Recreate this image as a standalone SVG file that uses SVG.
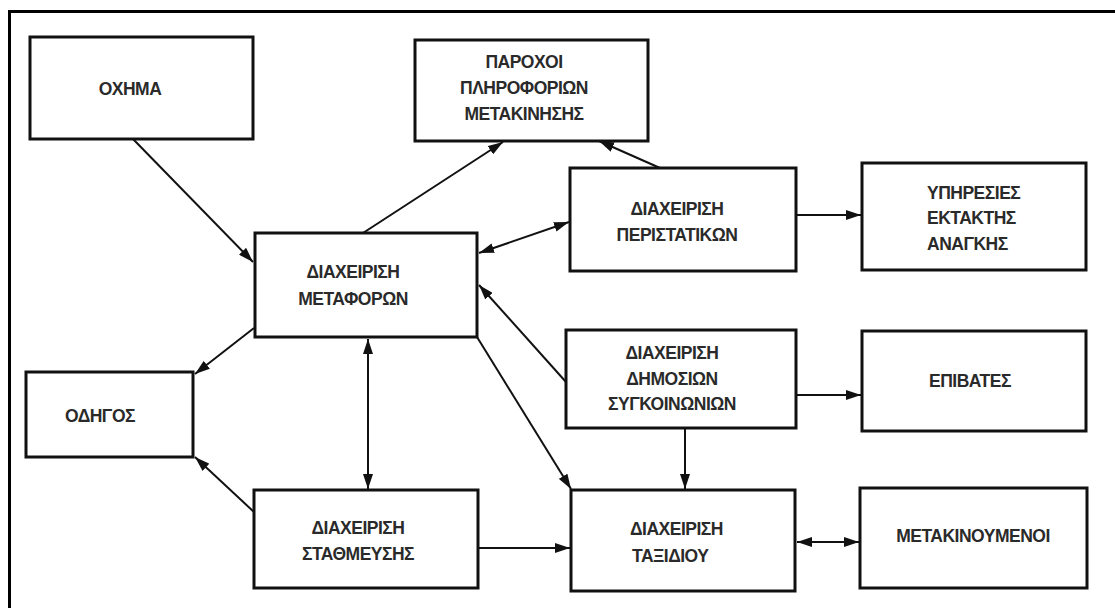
<svg xmlns="http://www.w3.org/2000/svg" width="1115" height="608" viewBox="0 0 1115 608">
  <style>
    .box { fill: #ffffff; stroke: #111; stroke-width: 3; }
    .lbl { font-family: "Liberation Sans", Arial, sans-serif; font-weight: bold; font-size: 17.5px; letter-spacing: -0.5px; fill: #2a2a2a; text-anchor: middle; }
    .lbl-s { text-anchor: start; }
    .edge { fill: none; stroke: #111; stroke-width: 2; }
    .frame { fill: none; stroke: #000; stroke-width: 3; }
  </style>
  <defs>
    <marker id="arrow" viewBox="0 0 15 10" refX="15" refY="5" markerWidth="15" markerHeight="10" markerUnits="userSpaceOnUse" orient="auto">
      <path d="M0,0 L15,5 L0,10 Z" fill="#111"/>
    </marker>
    <marker id="arrow-start" viewBox="0 0 15 10" refX="0" refY="5" markerWidth="15" markerHeight="10" markerUnits="userSpaceOnUse" orient="auto">
      <path d="M15,0 L0,5 L15,10 Z" fill="#111"/>
    </marker>
  </defs>

  <rect width="1115" height="608" fill="#ffffff"/>

  <!-- outer frame (top and left edges) -->
  <path class="frame" d="M9.5,608 V11.5 H1115"/>

  <!-- connectors -->
  <g id="connectors">
    <line class="edge" x1="133" y1="139" x2="253" y2="262" marker-end="url(#arrow)"/>
    <line class="edge" x1="363" y1="233" x2="503" y2="142" marker-end="url(#arrow)"/>
    <line class="edge" x1="660" y1="168" x2="599" y2="141" marker-end="url(#arrow)"/>
    <line class="edge" x1="479" y1="253" x2="569" y2="222" marker-start="url(#arrow-start)" marker-end="url(#arrow)"/>
    <line class="edge" x1="796" y1="215" x2="861" y2="215" marker-end="url(#arrow)"/>
    <line class="edge" x1="566" y1="382" x2="479" y2="285" marker-end="url(#arrow)"/>
    <line class="edge" x1="477" y1="337" x2="571" y2="489" marker-end="url(#arrow)"/>
    <line class="edge" x1="796" y1="395" x2="861" y2="395" marker-end="url(#arrow)"/>
    <line class="edge" x1="685" y1="428" x2="685" y2="489" marker-end="url(#arrow)"/>
    <line class="edge" x1="368" y1="339" x2="368" y2="489" marker-start="url(#arrow-start)" marker-end="url(#arrow)"/>
    <line class="edge" x1="254" y1="328" x2="195" y2="374" marker-end="url(#arrow)"/>
    <line class="edge" x1="254" y1="512" x2="195" y2="457" marker-end="url(#arrow)"/>
    <line class="edge" x1="478" y1="548" x2="570" y2="548" marker-end="url(#arrow)"/>
    <line class="edge" x1="797" y1="542" x2="859" y2="542" marker-start="url(#arrow-start)" marker-end="url(#arrow)"/>
  </g>

  <!-- nodes -->
  <g id="n-oxima">
    <rect class="box" x="30" y="37" width="223" height="102"/>
    <text class="lbl" x="130" y="95">ΟΧΗΜΑ</text>
  </g>
  <g id="n-paroxoi">
    <rect class="box" x="415" y="40" width="233" height="101"/>
    <text class="lbl" x="524" y="68">ΠΑΡΟΧΟΙ</text>
    <text class="lbl" x="524" y="94">ΠΛΗΡΟΦΟΡΙΩΝ</text>
    <text class="lbl" x="524" y="120">ΜΕΤΑΚΙΝΗΣΗΣ</text>
  </g>
  <g id="n-peristatika">
    <rect class="box" x="570" y="168" width="226" height="103"/>
    <text class="lbl" x="677" y="215">ΔΙΑΧΕΙΡΙΣΗ</text>
    <text class="lbl" x="677" y="241">ΠΕΡΙΣΤΑΤΙΚΩΝ</text>
  </g>
  <g id="n-ypiresies">
    <rect class="box" x="862" y="163" width="224" height="107"/>
    <text class="lbl lbl-s" x="927" y="199">ΥΠΗΡΕΣΙΕΣ</text>
    <text class="lbl lbl-s" x="927" y="224">ΕΚΤΑΚΤΗΣ</text>
    <text class="lbl lbl-s" x="927" y="250">ΑΝΑΓΚΗΣ</text>
  </g>
  <g id="n-metafores">
    <rect class="box" x="255" y="233" width="222" height="104"/>
    <text class="lbl" x="353" y="278">ΔΙΑΧΕΙΡΙΣΗ</text>
    <text class="lbl" x="353" y="305">ΜΕΤΑΦΟΡΩΝ</text>
  </g>
  <g id="n-odigos">
    <rect class="box" x="26" y="372" width="167" height="85"/>
    <text class="lbl" x="100" y="422">ΟΔΗΓΟΣ</text>
  </g>
  <g id="n-sygkoinonies">
    <rect class="box" x="566" y="330" width="230" height="98"/>
    <text class="lbl" x="672" y="359">ΔΙΑΧΕΙΡΙΣΗ</text>
    <text class="lbl" x="672" y="385">ΔΗΜΟΣΙΩΝ</text>
    <text class="lbl" x="672" y="410">ΣΥΓΚΟΙΝΩΝΙΩΝ</text>
  </g>
  <g id="n-epivates">
    <rect class="box" x="862" y="331" width="224" height="100"/>
    <text class="lbl" x="970" y="387">ΕΠΙΒΑΤΕΣ</text>
  </g>
  <g id="n-stathmeusi">
    <rect class="box" x="254" y="490" width="224" height="98"/>
    <text class="lbl" x="358" y="534">ΔΙΑΧΕΙΡΙΣΗ</text>
    <text class="lbl" x="358" y="560">ΣΤΑΘΜΕΥΣΗΣ</text>
  </g>
  <g id="n-taxidi">
    <rect class="box" x="571" y="490" width="224" height="101"/>
    <text class="lbl lbl-s" x="630" y="535">ΔΙΑΧΕΙΡΙΣΗ</text>
    <text class="lbl lbl-s" x="632" y="562">ΤΑΞΙΔΙΟΥ</text>
  </g>
  <g id="n-metakinoumenoi">
    <rect class="box" x="860" y="488" width="227" height="100"/>
    <text class="lbl" x="973" y="542">ΜΕΤΑΚΙΝΟΥΜΕΝΟΙ</text>
  </g>
</svg>
